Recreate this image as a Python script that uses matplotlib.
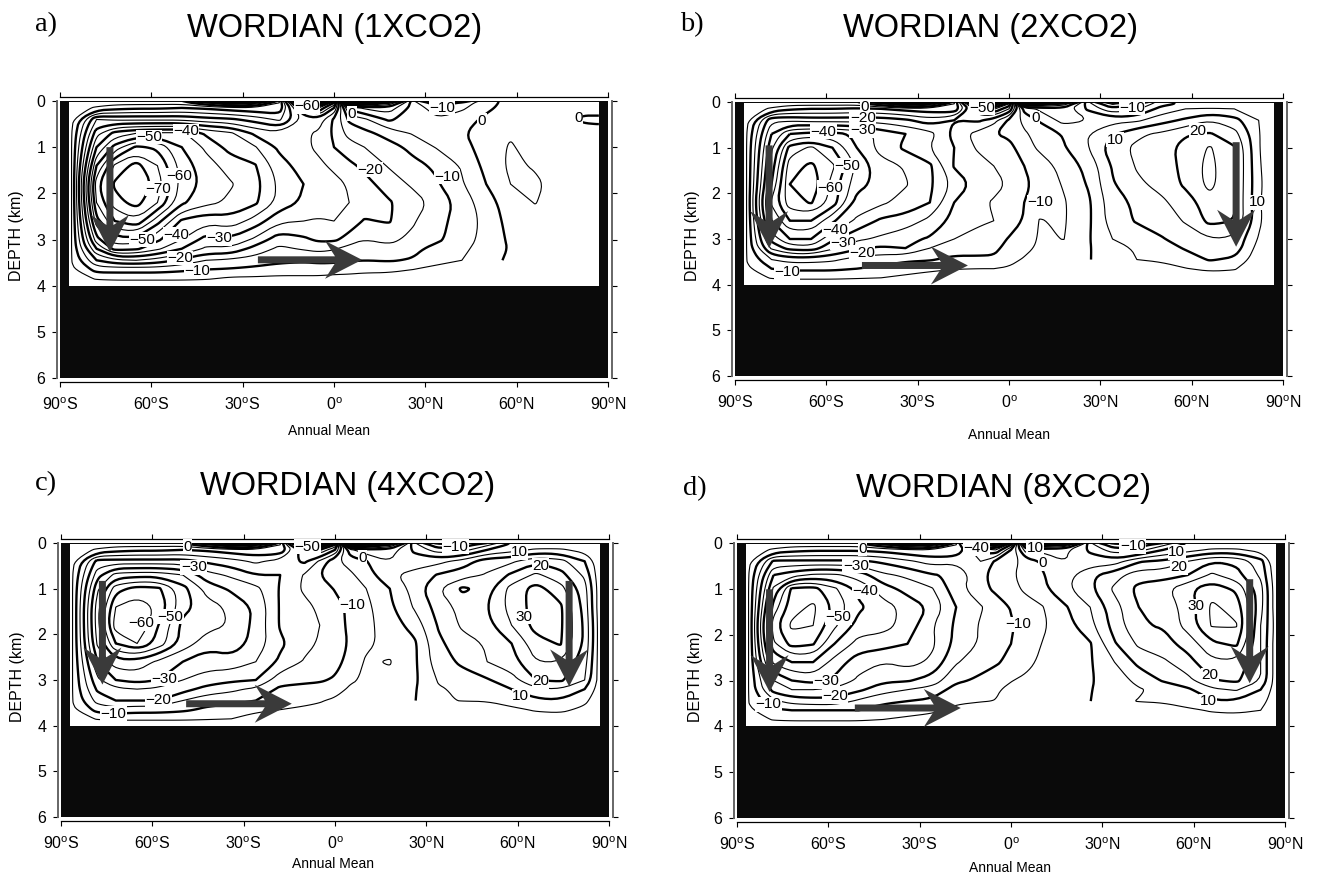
import numpy as np
import matplotlib
matplotlib.use('Agg')
import matplotlib.pyplot as plt
from matplotlib.path import Path
from matplotlib.patches import Rectangle, Polygon
from matplotlib.transforms import IdentityTransform

plt.rcParams['font.family'] = ['Liberation Sans', 'DejaVu Sans']
plt.rcParams['mathtext.fontset'] = 'custom'
plt.rcParams['mathtext.rm'] = 'Liberation Sans'

nan = float('nan')

# grid of the overturning streamfunction
lats = [-87, -86, -78, -72, -65, -58, -50, -42, -34, -26, -18, -10, -5, 0, 5, 10, 18, 26, 34, 42, 50, 58, 66, 74, 82, 86, 87]
depths = [0, 0.04, 0.15, 0.4, 0.7, 1.0, 1.4, 1.8, 2.2, 2.6, 3.0, 3.2, 3.45, 3.65, 3.85, 4]

psi_1x = [
    [-1, -1, -1, -1, -1, -1, -1, 30, 60, 40, -4, -70, -80, -50, 60, 60, 40, -4, -25, -15, -1, 1, 1, 1, 1, 1, 1],
    [-1, -1, -2, -3, -3, -3, -3, 5, 15, 10, -5, -55, -65, -40, 30, 30, 20, -3, -14, -9, -1, 1, 1, 1, 1, 1, 1],
    [-1, -2, -6, -8, -9, -9, -10, -9, -7, -6, -6, -38, -45, -30, 2, 6, 8, -2, -8, -6, -1, 2, 1, 1, 1, 1, 1],
    [-1, -4, -25, -24, -24, -24, -24, -22, -21, -18, -14, -26, -28, -19, -9, -6, 1, -3, -4.5, -2, 1, 1.5, 1.5, 1, -0.5, -0.5, -0.5],
    [-1, -5.5, -33, -42, -45, -46, -46, -39, -36, -29, -26, -26, -24, -19, -13, -11.5, -8, -4.5, -2.5, -1, 4.5, 4.5, 3, 2, 1.5, 1, 1],
    [-1, -6, -40, -52, -61, -59, -50, -44, -38, -35.5, -29, -26, -24, -20, -17.5, -15, -12, -8.5, -4.5, -2, 2.5, 5.5, 3, 2, 1.5, 1, 1],
    [-1, -6, -50, -66, -72, -65, -53, -47, -43, -40.5, -32, -28, -26, -24, -21, -19, -14.5, -11.5, -9, -4.5, 1.5, 6, 4.5, 3, 2, 1, 1],
    [-1, -6, -58, -71, -75, -68, -53, -48.5, -45.5, -42, -34, -30, -28, -26.5, -24.5, -21.5, -18, -14, -10.5, -5.5, 0, 5, 6, 3, 2, 1, 1],
    [-1, -6, -55, -68, -72, -65, -51, -46.5, -44, -41, -33.5, -29, -27.5, -26, -25, -23, -20.5, -17.5, -13, -8, -2, 2.5, 5.2, 3, 2, 1, 1],
    [-1, -6, -48, -60, -64, -52, -39, -36.5, -38, -33, -26, -25, -24.5, -25, -23, -19.5, -20.5, -15.5, -11.5, -8, -3.5, 2, 3, 2.5, 2, 1, 1],
    [-1, -6, -38, -48, -48, -41, -35, -28, -29, -24, -17, -19, -21, -21, -18, -15, -16, -14, -11, -7, -3.5, 1, 2, 2, 1.5, 1, 1],
    [-1, -6, -30, -42, -41, -36, -30, -24, -24, -18, -14, -15.5, -16.5, -15.5, -13, -12.5, -14, -11.5, -8, -6, -3, 0.5, 1.5, 1.5, 1, 1, 1],
    [-1, -5.5, -20, -24, -25, -23, -19, -15, -14, -13, -11, -10.5, -11, -11, -10.5, -10, -10.5, -9.5, -7, -5, -2, 1, 1.5, 1.5, 1, 1, 1],
    [-1, -4, -12, -12, -12, -12, -11, -10, -9.5, -8.5, -8, -8, -8, -7.5, -7, -6.5, -6.5, -5, -3, -2, nan, nan, 1, 1, 1, 1, 1],
    [-1, -2, -5.5, -6, -6, -6, -6, -5.5, -4, -4, -3.5, -3.5, -3.5, -3, -3, -2.5, -2, -1.5, -1, -1, nan, nan, 1, 1, 1, 1, 1],
    [-1] * 20 + [nan, nan] + [1] * 5,
]

psi_2x = [
    [-1, -1, -1, -1, -1, -1, -1, 20, 60, 40, -4, -60, -70, -45, 50, 50, 35, -4, -25, -18, -1, 1, 1, 1, 1, 1, 1],
    [-1, -1, -2, -3, -3, -3, -3, 4, 15, 10, -5, -45, -55, -35, 25, 25, 18, -3, -16, -10, -2, 1.5, 1.5, 1.5, 1.5, 1, 1],
    [-1, -2, -6, -9, -10, -10, -11, -10, -8, -7, -6, -30, -36, -25, 2, 6, 8, -1, -9, -6, 2, 5, 5.5, 5, 4, 1, 1],
    [-1, -4, -24, -24, -23, -23, -23, -23, -21, -17, -20, -21, -17, -9, -3.5, 0.5, 7, 5, 3.5, 4, 8, 11, 15, 12, 5, 1, 1],
    [-1, -5.5, -30, -40, -42, -42, -39, -33, -30, -27, -18, -13, -10.2, -9, -5.8, -3, 0.5, 5, 9.5, 14, 16, 19.5, 20.5, 17, 5.5, 1, 1],
    [-1, -6, -34, -52, -56, -50, -40, -33, -29, -25, -20, -14, -13, -11.5, -7.5, -4, -0.5, 5, 13, 16, 17.5, 22, 25.5, 20.5, 5.5, 1, 1],
    [-1, -6, -37, -58, -61, -56, -44, -37, -34.5, -31, -19.5, -17.5, -15, -13, -10, -8, -3, 1.5, 10.5, 15.5, 16.5, 22, 26.5, 20.5, 6, 1, 1],
    [-1, -6, -40, -60, -64, -53, -42, -38, -35.5, -31, -23.5, -18, -16.5, -14.5, -11, -8.5, -4.5, 0.5, 9.5, 14, 16.5, 21, 26.5, 20, 6.5, 1.5, 1],
    [-1, -6, -46, -58, -60.5, -53, -38, -36, -33, -30, -20, -16, -14.5, -13, -10, -6.5, -5.5, -1, 8, 11, 14, 17.5, 23, 20, 6, 1, 1],
    [-1, -6, -40, -50, -50, -41, -34, -29, -28, -23.5, -18.5, -16, -15, -13.5, -9.5, -4.8, -5.5, -1, 7.5, 10.5, 12.5, 15.5, 21.5, 20, 6.5, 1, 1],
    [-1, -6, -32, -40, -40, -31, -26, -24, -21, -19.5, -15, -13, -13, -9.5, -7.5, -4.5, -5.1, -0.5, 5, 7, 9.5, 12.5, 15, 14, 4.5, 1, 1],
    [-1, -6, -26, -32, -33, -26, -21, -19, -20, -15, -13, -12, -11.5, -8, -6.5, -4, -3.5, -0.5, 3.5, 5.5, 7.5, 10.5, 12.5, 13, 3, 1, 1],
    [-1, -5.5, -15, -17, -17, -16, -13, -12, -11, -10.5, -8.5, -9, -9, -6.5, -4.5, -3, -2.5, -0.2, 1.5, 5, 5.5, 7.5, 10.5, 9, 2, 1, 1],
    [-1, -4, -10, -11, -11, -11, -10, -9, -7, -6, -5.2, -5, -5, -4.5, -2, -1.5, -1, nan, nan, 2, 3.8, 4.8, 6, 5.5, 1, 1, 1],
    [-1, -2, -5.5, -6, -6, -6, -5.5, -5, -4, -3, -2.5, -2, -2, -1.5, -1, -1, -1, nan, nan, 1, 1.5, 2, 2.5, 2, 1, 1, 1],
    [-1] * 17 + [nan, nan] + [1] * 8,
]

psi_4x = [
    [-1, -1, -1, -1, -1, -1, -1, 20, 60, 40, -4, -60, -70, -40, 60, 60, 35, -4, -20, -20, -10, 1, 1, 1, 1, 1, 1],
    [-1, -1, -2, -3, -3, -3, -3, 4, 15, 10, -5, -42, -50, -30, 30, 30, 20, -3, -14, -13, -6, 1.5, 1.5, 1.5, 1.5, 1, 1],
    [-1, -2, -6, -8, -9, -9, -10, -9, -7, -6, -6, -25, -30, -20, 4, 8, 8, -1, -8, -7, 0, 3, 6, 6, 3, 1.5, 1],
    [-1, -4, -22, -22, -22, -22, -22, -19, -17, -14, -17, -21, -14, -6, -3, -0.5, 5, 2, 3.5, 7, 13, 14, 19, 17, 10, 3, 1],
    [-1, -5.5, -28, -37, -38, -38, -35, -27, -24, -20, -20, -14.5, -10, -8, -6, -2.5, 4, 7, 10.5, 13, 15.5, 21, 26, 22, 14, 4, 1],
    [-1, -6, -34, -48, -52, -51, -42, -33, -29, -26.5, -19.5, -14, -12, -9.7, -7.5, -5.2, 0, 7, 15, 21, 18, 27, 32, 27, 17, 5, 1],
    [-1, -6, -38, -55, -58, -54, -42, -37, -34, -29, -19.5, -16.5, -14, -11.5, -9, -6.5, -1, 5.5, 12, 17, 20, 27, 32, 31, 18, 5, 1],
    [-1, -6, -38, -58, -60.5, -50, -38.5, -37, -34.5, -28.5, -19.5, -17, -15, -12, -9, -6.5, -2.5, 2, 10.5, 16, 18.5, 25, 32, 31, 19, 6, 1],
    [-1, -6, -36, -50, -55, -48, -38, -32, -33, -28, -21, -16.5, -14.5, -12, -9.5, -6, -3.5, -1, 9, 13, 15.5, 20, 28, 30.5, 19, 6, 1],
    [-1, -6, -30, -38, -38, -34, -30, -27, -28, -25, -19, -14.5, -13, -11.5, -8.5, -4.5, -5.3, -1, 8, 11, 15, 18, 25, 25, 17, 5.5, 1],
    [-1, -6, -24, -30, -32, -30, -25, -23, -21, -20, -12, -11, -10.5, -9.5, -6, -4, -4, -1, 5.5, 8, 9.5, 13, 20, 21, 15, 5, 1],
    [-1, -6, -21, -24, -25, -24, -22, -18, -16, -14, -9, -8.5, -8.5, -7.5, -4, -2.5, -2, -0.5, 4.5, 6, 7.5, 10, 14, 15, 10, 4, 1],
    [-1, -5.5, -17, -20, -20, -20, -15, -12, -12, -10, -8, -6.5, -5.5, -4, -2, -1.5, -1, -0.3, 4.5, 5.2, 5.3, 7, 9, 9.5, 6, 3, 1],
    [-1, -4, -12, -13, -12, -12, -11, -9, -7, -5.5, -5, -4, -3.5, -2.5, -1, -1, -1, nan, nan, 2, 2.5, 4, 5.5, 6, 4, 2, 1],
    [-1, -2, -5.5, -6, -6, -6, -6, -5.5, -5, -4, -2, -1.5, -1, -1, -1, -1, -1, nan, nan, 1, 1, 2, 3, 3, 2, 1, 1],
    [-1] * 17 + [nan, nan] + [1] * 8,
]

psi_8x = [
    [-1, -1, -1, -1, -1, -1, -1, 20, 60, 40, -4, -50, -60, -30, 40, 50, 40, -4, -20, -20, -10, 1, 1, 1, 1, 1, 1],
    [-1, -1, -2, -3, -3, -3, -3, 4, 15, 10, -5, -35, -42, -20, 20, 25, 20, -3, -14, -13, -6, 1.5, 1.5, 1.5, 1.5, 1, 1],
    [-1, -2, -6, -8, -9, -9, -9, -8, -6, -5, -5, -22, -25, -10, 8, 6, 6, -1, -8, -7, 0, 3, 6, 6, 3, 1.5, 1],
    [-1, -4, -21, -21, -21, -21, -21, -19, -16, -13, -14, -15, -9, -7, -3, 0.5, 5, 2, 2.5, 9.5, 11, 15, 20, 19, 12, 3, 1],
    [-1, -5.5, -30, -33, -36, -36, -33, -26, -24, -20.5, -19, -11, -8.5, -6, -2.5, -0.5, 3, 9, 13, 18, 18, 20, 26, 22, 14, 4, 1],
    [-1, -6, -36, -51, -52, -46, -38.5, -32.5, -28, -25.5, -17, -11.5, -9, -6.5, -4, -1.5, 4, 9, 16, 21.5, 23.5, 29, 33, 29, 17, 5, 1],
    [-1, -6, -42, -53, -56, -49, -41, -37, -33.5, -29, -20, -15.5, -12.5, -9.7, -7, -5.5, -0.5, 5, 13, 20, 22, 27, 36, 33, 17, 5, 1],
    [-1, -6, -48, -56, -55, -46, -38, -37, -33, -25.5, -19, -14.5, -13.5, -10.5, -8, -6, -2, 3.5, 12, 19.5, 20.5, 27, 35.5, 35.5, 15, 6, 1],
    [-1, -6, -44, -52, -50.5, -40, -33, -32, -30, -26, -18.5, -14.5, -12.5, -10, -7.5, -5, -3.5, -0.5, 9.5, 16, 18, 22, 29, 31, 15, 5, 1],
    [-1, -6, -36, -40, -40, -33, -27, -25, -27, -24, -15.5, -12, -10.5, -9, -6.5, -4, -2.5, -0.5, 5, 11.5, 14, 18, 24, 24, 15, 5, 1],
    [-1, -6, -25, -30, -32, -29, -24, -21, -20.5, -18, -11, -9, -8, -5.2, -4, -2.5, -1.5, -0.5, 2.5, 6.5, 10.5, 13.5, 19.5, 21, 15, 5, 1],
    [-1, -6, -22, -25, -25, -24, -21, -17, -15, -13, -8, -6.5, -5.5, -4, -2.5, -1.5, -1, -0.3, 3, 4.5, 6.5, 9, 14, 15.5, 10, 4, 1],
    [-1, -5.5, -14, -17, -18, -18, -14, -11, -10, -9, -6, -5.2, -4.9, -2.5, -1.2, -1, -1, -0.1, 4, 5.2, 5.5, 7.5, 9.5, 9.5, 7, 3, 1],
    [-1, -4, -9, -10, -10, -10, -10, -8, -7, -6, -3.5, -3, -2, -1, -1, -1, -1, nan, nan, 2, 3, 4, 5.5, 6, 5, 2, 1],
    [-1, -2, -5.5, -6, -6, -6, -6, -5, -4, -3, -2, -1.5, -1, -1, -1, -1, -1, nan, nan, 1, 1, 2, 3, 3, 2, 1, 1],
    [-1] * 17 + [nan, nan] + [1] * 8,
]

# contour labels: lat, depth, text
labels_1x = [(-60.8, .78, '-50'), (-48.6, .65, '-40'), (-50.9, 1.62, '-60'), (-57.8, 1.9, '-70'), (-63, 3.0, '-50'),
             (-51.9, 2.9, '-40'), (-37.8, 2.97, '-30'), (-50.6, 3.4, '-20'), (-45, 3.68, '-10'), (-8.9, .11, '-60'),
             (5.9, .28, '0'), (11.8, 1.49, '-20'), (37.1, 1.64, '-10'), (35.5, .15, '-10'), (48.6, .43, '0'), (80.2, .37, '0')]
labels_2x = [(-61, .65, '-40'), (-47.3, .11, '0'), (-48, .36, '-20'), (-48, .62, '-30'), (-53.2, 1.4, '-50'),
             (-58.8, 1.88, '-60'), (-57.1, 2.8, '-40'), (-54.5, 3.08, '-30'), (-48.3, 3.3, '-20'), (-72.9, 3.73, '-10'),
             (-8.9, .13, '-50'), (8.6, .35, '0'), (40.4, .13, '-10'), (10.2, 2.2, '-10'), (34.8, .83, '10'),
             (62.1, .63, '20'), (81.5, 2.2, '10')]
labels_4x = [(-48.4, .08, '0'), (-46.4, .53, '-30'), (-54, 1.61, '-50'), (-63.7, 1.76, '-60'), (-56, 2.97, '-30'),
             (-58.1, 3.43, '-20'), (-72.7, 3.74, '-10'), (-9, .08, '-50'), (9, .32, '0'), (5.6, 1.36, '-10'),
             (39.5, .08, '-10'), (60.6, .2, '10'), (67.5, .5, '20'), (62.1, 1.61, '30'), (67.5, 3.03, '20'), (61, 3.36, '10')]
labels_8x = [(-48.7, .13, '0'), (-51, .5, '-30'), (-47.8, 1.05, '-40'), (-56.7, 1.62, '-50'), (-60.6, 3.02, '-30'),
             (-57.8, 3.34, '-20'), (-79.7, 3.52, '-10'), (-11.3, .12, '-40'), (7.9, .1, '10'), (10.3, .44, '0'),
             (2.4, 1.77, '-10'), (40, .07, '-10'), (54.4, .2, '10'), (55.1, .53, '20'), (60.6, 1.38, '30'),
             (65.3, 2.88, '20'), (64.7, 3.45, '10')]

# circulation arrows: lat, depth of tail and of tip
arrows_1x = [(-73.6, 1.0, -73.6, 3.27), (-25, 3.44, 9.2, 3.44)]
arrows_2x = [(-78.8, .95, -78.8, 3.2), (-48.3, 3.58, -13.5, 3.58), (74.6, .88, 74.6, 3.17)]
arrows_4x = [(-76.4, .83, -76.4, 3.1), (-48.9, 3.52, -14.2, 3.52), (76.9, .83, 76.9, 3.14)]
arrows_8x = [(-79.3, 1.01, -79.3, 3.25), (-51.3, 3.6, -16.5, 3.6), (78.4, .79, 78.4, 3.06)]

W, H = 1323, 874
lat_ticks = [-90, -60, -30, 0, 30, 60, 90]
lat_names = ['90$^{\\mathrm{o}}$S', '60$^{\\mathrm{o}}$S', '30$^{\\mathrm{o}}$S', '0$^{\\mathrm{o}}$',
             '30$^{\\mathrm{o}}$N', '60$^{\\mathrm{o}}$N', '90$^{\\mathrm{o}}$N']
thin_levels = np.arange(-85, 60, 10)
thick_levels = np.arange(-80, 70, 10)

fig = plt.figure(figsize=(W / 100, H / 100), dpi=100)


def round_corners(cs, rounds=2):
    # corner cutting so the lines look less like the coarse grid behind them
    new_paths = []
    for path in cs.get_paths():
        verts, codes = [], []
        for seg in path.to_polygons(closed_only=False):
            closed = len(seg) > 3 and np.allclose(seg[0], seg[-1])
            for _ in range(rounds):
                if len(seg) < 3:
                    break
                a, b = seg[:-1], seg[1:]
                cut = np.empty((2 * len(a), 2))
                cut[0::2] = 0.75 * a + 0.25 * b
                cut[1::2] = 0.25 * a + 0.75 * b
                if closed:
                    seg = np.vstack([cut, cut[0]])
                else:
                    seg = np.vstack([seg[0], cut, seg[-1]])
            verts.append(seg)
            codes += [Path.MOVETO] + [Path.LINETO] * (len(seg) - 1)
        if verts:
            new_paths.append(Path(np.vstack(verts), codes))
        else:
            new_paths.append(path)
    cs.set_paths(new_paths)


def draw_arrow(ax, x0, y0, x1, y1):
    # work in pixels so the head keeps its shape on the stretched axes
    p0 = ax.transData.transform((x0, y0))
    p1 = ax.transData.transform((x1, y1))
    u = (p1 - p0) / np.linalg.norm(p1 - p0)
    n = np.array([-u[1], u[0]])
    back = p1 - 37 * u
    notch = p1 - 27 * u
    pts = [p0 + 3.5 * n, notch + 3.5 * n, back + 19 * n, p1, back - 19 * n, notch - 3.5 * n, p0 - 3.5 * n]
    ax.add_patch(Polygon(pts, closed=True, transform=IdentityTransform(), facecolor='#3a3a3a',
                         edgecolor='none', zorder=5))


def panel(box, psi, labels, arrows, letter, letter_pos, title, title_pos, note_pos, ylab_pos):
    x0, x1, y0, y1 = box
    ax = fig.add_axes([x0 / W, 1 - y1 / H, (x1 - x0) / W, (y1 - y0) / H])
    ax.set_facecolor('#0a0a0a')
    ax.set_xlim(-90, 90)
    ax.set_ylim(6, 0)
    ax.add_patch(Rectangle((-87, 0.02), 174, 3.98, facecolor='white', edgecolor='none', zorder=1))

    z = np.array(psi, dtype=float)
    thin = ax.contour(lats, depths, z, levels=thin_levels, colors='black', linewidths=0.8,
                      linestyles='solid', zorder=2)
    thick = ax.contour(lats, depths, z, levels=thick_levels, colors='black', linewidths=1.7,
                       linestyles='solid', zorder=3)
    round_corners(thin)
    round_corners(thick)

    for lat, dep, txt in labels:
        ax.text(lat, dep, txt.replace('-', '\u2212'), fontsize=11, ha='center', va='center', zorder=4,
                bbox=dict(facecolor='white', edgecolor='none', pad=0.3))

    fig.canvas.draw()
    for a in arrows:
        draw_arrow(ax, *a)

    for side in ['top', 'bottom', 'right']:
        ax.spines[side].set_position(('outward', 3.2))
    ax.spines['left'].set_position(('outward', 2.2))
    ax.spines['left'].set(color='#666666', linewidth=1.4)
    ax.spines['right'].set(color='#666666', linewidth=1.4)
    ax.spines['top'].set_linewidth(0.9)
    ax.spines['bottom'].set_linewidth(0.9)
    ax.set_xticks(lat_ticks)
    ax.set_xticklabels(lat_names)
    ax.set_yticks(range(7))
    ax.tick_params(top=True, right=True, labelsize=11.5, length=3.5, width=0.8)
    ax.tick_params(axis='y', pad=5)
    ax.tick_params(axis='x', pad=6.5)

    fig.text(ylab_pos[0] / W, 1 - ylab_pos[1] / H, 'DEPTH (km)', rotation=90, fontsize=11.5,
             ha='center', va='center')
    fig.text(letter_pos[0] / W, 1 - letter_pos[1] / H, letter, family='Liberation Serif', fontsize=20.5,
             ha='left', va='center')
    fig.text(title_pos[0] / W, 1 - title_pos[1] / H, title, fontsize=23.5, ha='center', va='center')
    fig.text(note_pos[0] / W, 1 - note_pos[1] / H, 'Annual Mean', fontsize=10, ha='center', va='center')


panel((60, 608, 101, 378), psi_1x, labels_1x, arrows_1x, 'a)', (35, 25), 'WORDIAN (1XCO2)', (335, 29), (329, 431), (17, 236))
panel((735, 1283, 102, 376), psi_2x, labels_2x, arrows_2x, 'b)', (680, 25), 'WORDIAN (2XCO2)', (990, 29), (1009, 435), (693, 236))
panel((61, 609, 543, 817), psi_4x, labels_4x, arrows_4x, 'c)', (35, 484), 'WORDIAN (4XCO2)', (348, 486), (333, 864), (18, 677))
panel((737, 1285, 543, 818), psi_8x, labels_8x, arrows_8x, 'd)', (683, 489), 'WORDIAN (8XCO2)', (1003, 488), (1010, 868), (696, 677))

fig.savefig('out.png', dpi=100)
